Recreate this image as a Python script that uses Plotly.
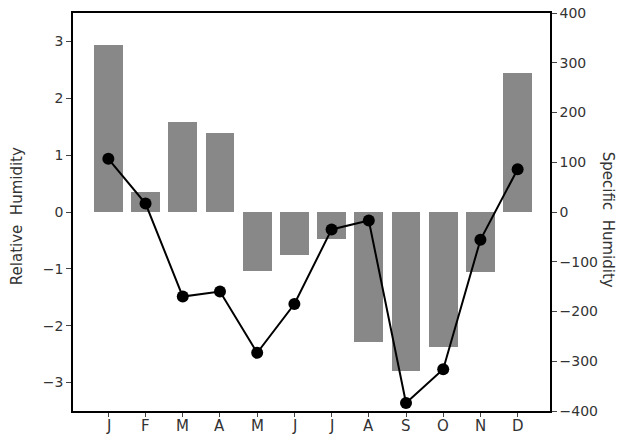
import plotly.graph_objects as go

# Monthly anomalies
months = ["J", "F", "M", "A", "M", "J", "J", "A", "S", "O", "N", "D"]
relative_humidity = [2.93, 0.36, 1.58, 1.39, -1.04, -0.75, -0.47, -2.29, -2.80, -2.38, -1.05, 2.44]
specific_humidity = [107, 17, -170, -160, -283, -185, -35, -17, -384, -316, -56, 86]

left_ticks = [-3, -2, -1, 0, 1, 2, 3]
right_ticks = [-400, -300, -200, -100, 0, 100, 200, 300, 400]


def minus(v):
    return ("\u2212" + str(-v)) if v < 0 else str(v)


x = list(range(len(months)))
font_family = "DejaVu Sans"
text_color = "#333333"

fig = go.Figure()

fig.add_trace(go.Bar(
    x=x, y=relative_humidity, width=0.77,
    marker=dict(color="#888888", line=dict(width=0)),
    yaxis="y", showlegend=False,
))

fig.add_trace(go.Scatter(
    x=x, y=specific_humidity, yaxis="y2",
    mode="lines+markers",
    line=dict(color="black", width=2),
    marker=dict(color="black", size=12),
    showlegend=False,
))

# Month letters sit just under the tick marks, set as annotations so the
# larger glyphs stay inside the page
month_labels = [
    dict(text=m, xref="x", yref="paper", x=i, y=-0.038,
         xanchor="center", yanchor="middle", showarrow=False,
         font=dict(size=15, color=text_color))
    for i, m in zip(x, months)
]

fig.update_layout(
    width=627, height=438,
    margin=dict(l=73, r=77, t=13, b=27),
    plot_bgcolor="white", paper_bgcolor="white",
    font=dict(family=font_family, color=text_color, size=14),
    bargap=0,
    xaxis=dict(
        range=[-0.95, 11.87], automargin=False,
        tickmode="array", tickvals=x, showticklabels=False,
        ticks="outside", ticklen=4, tickcolor="#444444",
        showline=True, linecolor="black", linewidth=1.5, mirror=True,
        showgrid=False, zeroline=False,
    ),
    yaxis=dict(
        range=[-3.5, 3.5], automargin=False,
        tickmode="array", tickvals=left_ticks,
        ticktext=[minus(v) for v in left_ticks],
        ticks="outside", ticklen=5, tickcolor="#444444",
        showline=True, linecolor="black", linewidth=1.5,
        showgrid=False, zeroline=False,
    ),
    yaxis2=dict(
        range=[-400, 400], overlaying="y", side="right", automargin=False,
        tickmode="array", tickvals=right_ticks,
        ticktext=[minus(v) for v in right_ticks],
        ticks="outside", ticklen=5, tickcolor="#444444",
        showline=True, linecolor="black", linewidth=1.5,
        showgrid=False, zeroline=False,
    ),
    annotations=[
        dict(text="Relative  Humidity", xref="paper", yref="paper",
             x=-0.117, y=0.49, xanchor="center", yanchor="middle",
             textangle=-90, showarrow=False,
             font=dict(size=15, color=text_color)),
        dict(text="Specific  Humidity", xref="paper", yref="paper",
             x=1.122, y=0.48, xanchor="center", yanchor="middle",
             textangle=90, showarrow=False,
             font=dict(size=15, color=text_color)),
    ] + month_labels,
)

fig.write_html("out.html")
